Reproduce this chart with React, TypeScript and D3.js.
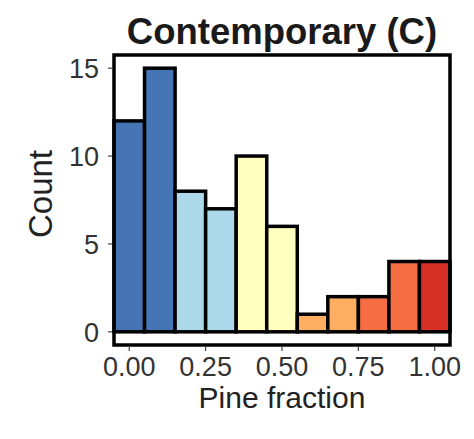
import * as d3 from "d3";

// histogram bins (centre of bin, width 0.1)
const binCenters = [0, 0.1, 0.2, 0.3, 0.4, 0.5, 0.6, 0.7, 0.8, 0.9, 1.0];
const counts = [12, 15, 8, 7, 10, 6, 1, 2, 2, 4, 4];
const binColors = [
  "#4575b4", "#4575b4", "#abd9e9", "#abd9e9", "#ffffbf", "#ffffbf",
  "#fdae61", "#fdae61", "#f46d43", "#f46d43", "#d73027",
];
const xTicks = [0, 0.25, 0.5, 0.75, 1.0];
const yTicks = [0, 5, 10, 15];

const width = 474;
const height = 439;
const panel = { left: 114, right: 450, top: 55, bottom: 345 };
const binWidth = 0.1;

export default function App() {
  const x = d3
    .scaleLinear()
    .domain([-0.05, 1.05])
    .range([panel.left, panel.right]);
  const y = d3
    .scaleLinear()
    .domain([-0.75, 15.75])
    .range([panel.bottom, panel.top]);

  const font = "'Liberation Sans', Arial, sans-serif";

  return (
    <svg
      width={width}
      height={height}
      style={{ position: "absolute", left: 0, top: 0, background: "#fff" }}
      fontFamily={font}
    >
      {/* title */}
      <text
        x={(panel.left + panel.right) / 2}
        y={44}
        textAnchor="middle"
        fontSize={36.5}
        fontWeight="bold"
        fill="#1a1a1a"
      >
        Contemporary (C)
      </text>

      {/* bars */}
      {counts.map((c, i) => (
        <rect
          key={i}
          x={x(binCenters[i] - binWidth / 2)}
          y={y(c)}
          width={x(binCenters[i] + binWidth / 2) - x(binCenters[i] - binWidth / 2)}
          height={y(0) - y(c)}
          fill={binColors[i]}
          stroke="#000"
          strokeWidth={3.5}
        />
      ))}

      {/* panel border */}
      <rect
        x={panel.left}
        y={panel.top}
        width={panel.right - panel.left}
        height={panel.bottom - panel.top}
        fill="none"
        stroke="#000"
        strokeWidth={3.5}
      />

      {/* y axis */}
      {yTicks.map((t) => (
        <g key={t}>
          <line
            x1={panel.left - 6}
            x2={panel.left - 2}
            y1={y(t)}
            y2={y(t)}
            stroke="#444"
            strokeWidth={1.2}
          />
          <text
            x={panel.left - 15}
            y={y(t)}
            dy="0.36em"
            textAnchor="end"
            fontSize={27}
            fill="#333"
          >
            {t}
          </text>
        </g>
      ))}

      {/* x axis */}
      {xTicks.map((t) => (
        <g key={t}>
          <line
            x1={x(t)}
            x2={x(t)}
            y1={panel.bottom + 2}
            y2={panel.bottom + 6}
            stroke="#444"
            strokeWidth={1.2}
          />
          <text
            x={x(t)}
            y={376}
            textAnchor="middle"
            fontSize={27}
            fill="#333"
          >
            {d3.format(".2f")(t)}
          </text>
        </g>
      ))}

      <text
        x={(panel.left + panel.right) / 2}
        y={408}
        textAnchor="middle"
        fontSize={30}
        fill="#222"
      >
        Pine fraction
      </text>
      <text
        transform={`translate(52,${(panel.top + panel.bottom) / 2 - 6}) rotate(-90)`}
        textAnchor="middle"
        fontSize={33}
        fill="#222"
      >
        Count
      </text>
    </svg>
  );
}
